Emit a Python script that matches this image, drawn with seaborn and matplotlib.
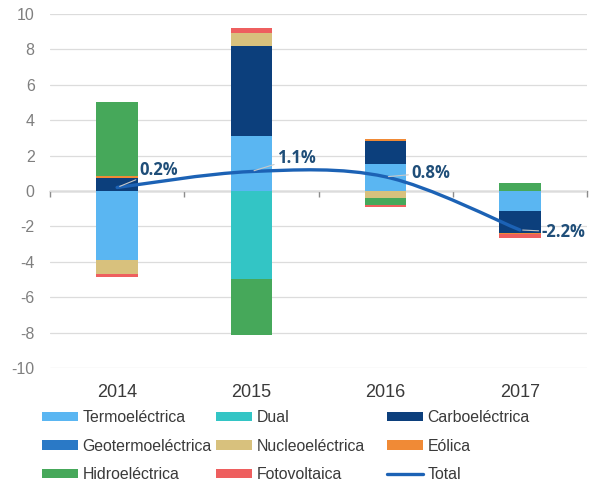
import numpy as np
import pandas as pd
import matplotlib
matplotlib.use("Agg")
import matplotlib.pyplot as plt
import seaborn as sns
from matplotlib.patches import Patch, PathPatch
from matplotlib.lines import Line2D
from matplotlib.path import Path

# ---------------- data ----------------
years = ["2014", "2015", "2016", "2017"]
series = ["Termoeléctrica", "Dual", "Carboeléctrica", "Geotermoeléctrica",
          "Nucleoeléctrica", "Eólica", "Hidroeléctrica", "Fotovoltaica"]
termo = [-3.9, 3.1, 1.55, -1.15]
dual = [0.0, -4.95, 0.0, 0.0]
carbo = [0.75, 5.1, 1.3, -1.2]
geo = [0.0, 0.0, 0.0, 0.0]
nucleo = [-0.8, 0.75, -0.38, 0.0]
eolica = [0.1, 0.0, 0.1, -0.1]
hidro = [4.15, -3.2, -0.42, 0.47]
foto = [-0.15, 0.25, -0.1, -0.2]
total = [0.2, 1.1, 0.8, -2.2]
total_labels = ["0.2%", "1.1%", "0.8%", "-2.2%"]
yticks = [-10, -8, -6, -4, -2, 0, 2, 4, 6, 8, 10]

colors = ["#5ab6f2", "#33c5c5", "#0c3f7c", "#2a79c6",
          "#d8c17d", "#f08a36", "#46a85a", "#ee5f5f"]
line_color = "#1c62b5"
label_color = "#1f4e79"

sns.set_style("white")
plt.rcParams["font.family"] = ["Liberation Sans", "DejaVu Sans"]

fig = plt.figure(figsize=(5.9, 4.82), dpi=100)
W, H = 590, 482
ax = fig.add_axes([50 / W, 1 - 368 / H, 537 / W, 354 / H])

# ---------------- stacked bars ----------------
values = [termo, dual, carbo, geo, nucleo, eolica, hidro, foto]
pos_bottom = np.zeros(len(years))
neg_bottom = np.zeros(len(years))
for name, vals, col in zip(series, values, colors):
    v = np.array(vals, dtype=float)
    bottom = np.where(v >= 0, pos_bottom, neg_bottom)
    df = pd.DataFrame({"year": years, "value": v})
    sns.barplot(data=df, x="year", y="value", order=years, bottom=bottom,
                color=col, saturation=1, width=0.31, errorbar=None,
                linewidth=0, ax=ax, zorder=2)
    pos_bottom += np.where(v > 0, v, 0)
    neg_bottom += np.where(v < 0, v, 0)

# ---------------- smoothed total line (Bezier through points) ----------------
P = np.column_stack([np.arange(len(total), dtype=float), np.array(total)])
n = len(P)
verts = [P[0]]
codes = [Path.MOVETO]
for i in range(n - 1):
    p0 = P[max(i - 1, 0)]
    p1 = P[i]
    p2 = P[i + 1]
    p3 = P[min(i + 2, n - 1)]
    verts += [p1 + (p2 - p0) / 6, p2 - (p3 - p1) / 6, p2]
    codes += [Path.CURVE4] * 3
ax.add_patch(PathPatch(Path(verts, codes), fill=False, edgecolor=line_color,
                       lw=2.4, capstyle="round", zorder=5))

offsets = [(22, 17), (26, 14), (26, 4), (22, -2)]
for i, (lbl, off) in enumerate(zip(total_labels, offsets)):
    ax.annotate(lbl, xy=(i, total[i]), xytext=off, textcoords="offset pixels",
                ha="left", va="center", fontsize=12, fontweight="bold",
                color=label_color, family=["Open Sans", "DejaVu Sans"], zorder=6,
                arrowprops=dict(arrowstyle="-", color="#c8c8c8", lw=0.8,
                                shrinkA=0, shrinkB=2))

# ---------------- axes styling ----------------
ax.set_xlim(-0.5, len(years) - 0.5)
ax.set_ylim(-10, 10)
ax.set_yticks(yticks)
ax.set_yticklabels([str(t) for t in yticks])
ax.yaxis.grid(True, color="#dcdcdc", lw=0.9)
ax.xaxis.grid(False)
ax.set_axisbelow(True)
for s in ax.spines.values():
    s.set_visible(False)
ax.set_xlabel("")
ax.set_ylabel("")
ax.tick_params(axis="y", length=0, pad=11, labelsize=11.5, labelcolor="#7f7f7f")
ax.tick_params(axis="x", length=0, pad=11.5, labelsize=13, labelcolor="#3a3a3a")

sec = ax.secondary_xaxis(0.5)
sec.set_xticks(np.arange(len(years) + 1) - 0.5)
sec.tick_params(direction="in", length=4, width=1, color="#8c8c8c",
                labeltop=False, labelbottom=False)
for k in ["top", "bottom"]:
    sec.spines[k].set_color("#8c8c8c")
    sec.spines[k].set_linewidth(1)

# ---------------- legend ----------------
handles = [Patch(facecolor=c, edgecolor="none") for c in colors]
handles.append(Line2D([0], [0], color=line_color, lw=2.4))
labels = series + ["Total"]
cols = [[0, 3, 6], [1, 4, 7], [2, 5, 8]]
col_x = [42, 216, 387]
for xpx, idx in zip(col_x, cols):
    fig.legend([handles[i] for i in idx], [labels[i] for i in idx],
               loc="upper left", bbox_to_anchor=(xpx / W, 1 - 410 / H),
               frameon=False, borderpad=0, borderaxespad=0,
               handlelength=2.3, handleheight=0.55, handletextpad=0.25,
               labelspacing=0.86, fontsize=11.4, labelcolor="#3a3a3a")

fig.savefig("out.png", dpi=100)
